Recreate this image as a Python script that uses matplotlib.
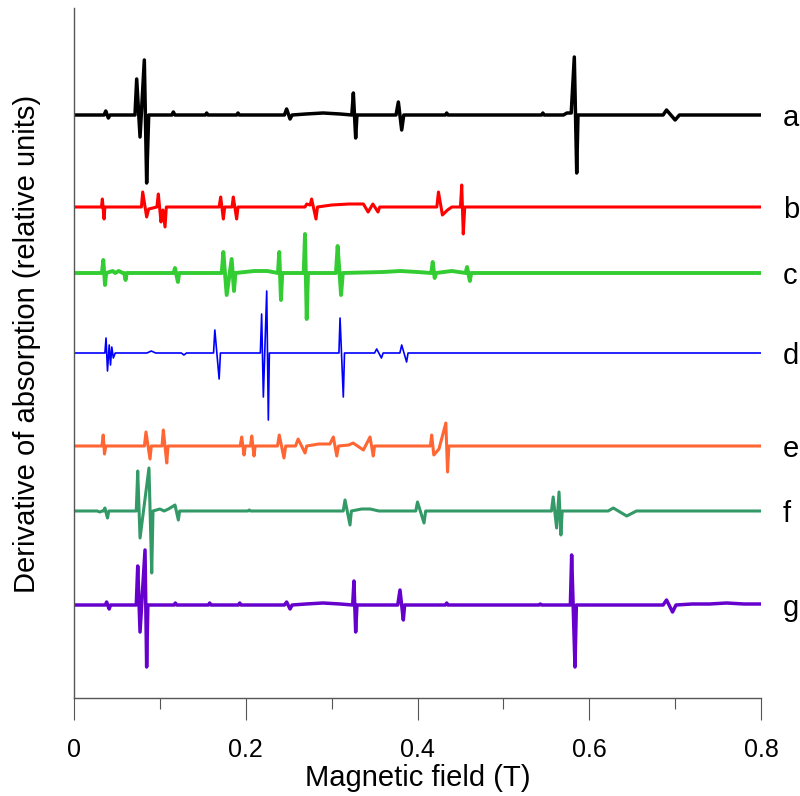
import matplotlib
matplotlib.use('Agg')
import matplotlib.pyplot as plt
from matplotlib.ticker import MultipleLocator
import numpy as np

plt.rcParams['font.family'] = ['Liberation Sans', 'DejaVu Sans']

# spectra as polylines: field (T) and deflection from baseline
a_field = [0, 0.035, 0.037, 0.040, 0.042, 0.071, 0.073, 0.0769, 0.0819, 0.0846, 0.087,
           0.114, 0.1157, 0.1175, 0.153, 0.1545, 0.156, 0.1895, 0.191, 0.1925,
           0.245, 0.2476, 0.2516, 0.254, 0.27, 0.29, 0.31, 0.3235, 0.3253, 0.328, 0.3295,
           0.375, 0.3777, 0.3816, 0.384, 0.4325, 0.434, 0.4355, 0.5445, 0.546, 0.5475,
           0.570, 0.574, 0.579, 0.5826, 0.5854, 0.5869, 0.686, 0.690, 0.700, 0.705, 0.8]
a_dy = [0, 0, 4, -3, 0, 0, 36, -22, 55, -68, 0,
        0, 3, 0, 0, 2, 0, 0, 2, 0,
        0, 6, -4, 0, 1, 2, 1, 0, 22, -23, 0,
        0, 13, -15, 0, 0, 2, 0, 0, 2, 0,
        0, 2, 2, 58, -58, 0, 0, 5, -5, 0, 0]

b_field = [0, 0.032, 0.033, 0.035, 0.036, 0.0785, 0.080, 0.0846, 0.087, 0.0965, 0.0982, 0.1013,
           0.1035, 0.106, 0.1075, 0.169, 0.1708, 0.1739, 0.1755, 0.184, 0.1855, 0.1894, 0.191,
           0.269, 0.271, 0.275, 0.2767, 0.2818, 0.2835, 0.30, 0.32, 0.337, 0.3425, 0.348, 0.354, 0.356,
           0.4225, 0.4244, 0.429, 0.435, 0.44, 0.450, 0.4515, 0.4533, 0.455, 0.8]
b_dy = [0, 0, 8, -12, 0, 0, 15, -10, -2, 0, 13, -15,
        -3, -20, 0, 0, 10, -12, 0, 0, 10, -12, 0,
        0, 3, 2, 8, -12, 0, 2, 3, 3, -5, 3, -5, 0,
        0, 15, -8, -3, 0, 0, 22, -27, 0, 0]

c_field = [0, 0.0325, 0.0341, 0.0361, 0.0375, 0.045, 0.048, 0.052, 0.057, 0.0585, 0.060, 0.0615,
           0.116, 0.1176, 0.121, 0.1225, 0.172, 0.1739, 0.1778, 0.1836, 0.1863, 0.188,
           0.21, 0.225, 0.2375, 0.239, 0.241, 0.2425, 0.2675, 0.269, 0.271, 0.2725,
           0.305, 0.307, 0.311, 0.313, 0.36, 0.38, 0.40, 0.416, 0.4177, 0.420, 0.4215,
           0.44, 0.456, 0.4577, 0.461, 0.4625, 0.8]
c_dy = [0, 0, 13, -12, 0, 2, 0, 2, 0, 0, -7, 0,
        0, 5, -9, 0, 0, 21, -22, 14, -18, 0,
        2, 2, 0, 21, -27, 0, 0, 39, -46, 0,
        0, 27, -22, 0, 1, 2, 1, 0, 11, -5, 0,
        2, 0, 6, -8, 0, 0]

d_field = [0, 0.036, 0.0373, 0.039, 0.041, 0.0425, 0.044, 0.0458, 0.048, 0.085, 0.09, 0.095,
           0.125, 0.128, 0.131, 0.1625, 0.164, 0.169, 0.1705,
           0.217, 0.2185, 0.2205, 0.2244, 0.2263, 0.2275, 0.3085, 0.3098, 0.3136, 0.315,
           0.350, 0.3525, 0.358, 0.360, 0.3795, 0.3816, 0.3873, 0.389, 0.8]
d_dy = [0, 0, 15, -18, 8, -12, 6, -5, 0, 0, 2, 0,
        0, -2, 0, 0, 23, -26, 0,
        0, 39, -44, 62, -67, 0, 0, 35, -44, 0,
        0, 4, -5, 0, 0, 8, -9, 0, 0]

e_field = [0, 0.0325, 0.034, 0.0355, 0.037, 0.082, 0.0838, 0.0885, 0.090, 0.1025, 0.104, 0.108, 0.1095,
           0.1935, 0.1953, 0.198, 0.1995, 0.2055, 0.207, 0.2096, 0.211,
           0.237, 0.239, 0.2445, 0.2465, 0.258, 0.261, 0.269, 0.271, 0.285, 0.298,
           0.302, 0.306, 0.308, 0.32, 0.325, 0.337, 0.3447, 0.3485, 0.350,
           0.415, 0.4165, 0.419, 0.425, 0.433, 0.435, 0.4365, 0.8]
e_dy = [0, 0, 11, -8, 0, 0, 14, -13, 0, 0, 16, -17, 0,
        0, 9, -9, 0, 0, 10, -10, 0,
        0, 11, -12, 0, 0, 7, -7, 0, 2, 2,
        9, -10, 0, 1, 3, -4, 9, -10, 0,
        0, 11, -9, -3, 23, -26, 0, 0]

f_field = [0, 0.027, 0.030, 0.033, 0.0345, 0.036, 0.039, 0.0405, 0.0725, 0.0742, 0.0769, 0.0873, 0.0905, 0.092,
           0.100, 0.105, 0.110, 0.1176, 0.1215, 0.123, 0.2025, 0.204, 0.2055,
           0.3135, 0.3156, 0.3214, 0.323, 0.335, 0.345, 0.355, 0.398, 0.400, 0.4076, 0.4095,
           0.556, 0.558, 0.562, 0.5648, 0.567, 0.5685, 0.622, 0.628, 0.6436, 0.655, 0.8]
f_dy = [0, 0, -1, 0, 0, 3, -7, 0, 0, 40, -27, 43, -62, 0,
        2, 0, 2, 6, -9, 0, 0, 1, 0,
        0, 11, -14, 0, 2, 2, 0, 0, 9, -12, 0,
        0, 14, -17, 19, -24, 0, 0, 3, -5, 0, 0]

g_field = [0, 0.0365, 0.038, 0.041, 0.0425, 0.0725, 0.0742, 0.0769, 0.0827, 0.0846, 0.086,
           0.1165, 0.118, 0.1195, 0.1565, 0.158, 0.1595, 0.1915, 0.193, 0.1945,
           0.245, 0.2476, 0.2516, 0.254, 0.27, 0.29, 0.31, 0.3245, 0.326, 0.328, 0.3295,
           0.377, 0.3796, 0.3835, 0.385, 0.4325, 0.434, 0.4355, 0.5415, 0.543, 0.5445,
           0.578, 0.5795, 0.5834, 0.585, 0.686, 0.690, 0.697, 0.701, 0.72, 0.74, 0.76, 0.78, 0.8]
g_dy = [0, 0, 3, -4, 0, 0, 39, -27, 55, -62, 0,
        0, 2, 0, 0, 2, 0, 0, 2, 0,
        0, 3, -4, 0, 1, 2, 1, 0, 24, -27, 0,
        0, 15, -15, 0, 0, 2, 0, 0, 1, 0,
        0, 50, -62, 0, 0, 5, -7, 0, 1, 1, 2, 1, 1]

labels = ['a', 'b', 'c', 'd', 'e', 'f', 'g']
offsets = [583, 491, 425, 345, 252, 187, 93]
colours = ['#000000', '#ff0000', '#33cc33', '#0000ff', '#ff6633', '#339966', '#6600cc']
widths = [2.5, 2.2, 2.8, 1.2, 2.2, 2.2, 2.5]

fields = [a_field, b_field, c_field, d_field, e_field, f_field, g_field]
dys = [a_dy, b_dy, c_dy, d_dy, e_dy, f_dy, g_dy]

fig = plt.figure(figsize=(8.0, 7.96), dpi=100)
ax = fig.add_axes([74/800, 98/796, 687/800, 690/796])

for fx, dy, off, col, lw, lab in zip(fields, dys, offsets, colours, widths, labels):
    ax.plot(fx, np.array(dy) + off, color=col, lw=lw, solid_joinstyle='round')
    ax.text(0.8255, off - 11, lab, fontsize=21, ha='left', va='baseline', clip_on=False)

ax.set_xlim(0, 0.8)
ax.set_ylim(0, 690)
ax.spines['top'].set_visible(False)
ax.spines['right'].set_visible(False)
for s in ['left', 'bottom']:
    ax.spines[s].set_color('#555555')
    ax.spines[s].set_linewidth(1.0)
ax.set_yticks([])
ax.xaxis.set_major_locator(MultipleLocator(0.2))
ax.xaxis.set_minor_locator(MultipleLocator(0.1))
ax.xaxis.set_major_formatter(lambda v, p: '0' if v == 0 else f'{v:.1f}')
ax.tick_params(axis='x', which='major', direction='out', length=16, width=0.8,
               color='#555555', pad=13, labelsize=18)
ax.tick_params(axis='x', which='minor', direction='out', length=8, width=0.8, color='#555555')

ax.set_xlabel('Magnetic field (T)', fontsize=21, labelpad=1)
ax.set_ylabel('Derivative of absorption (relative units)', fontsize=21, va='center')
ax.yaxis.set_label_coords(-0.068, 0.513)

fig.savefig('out.png', dpi=100)
